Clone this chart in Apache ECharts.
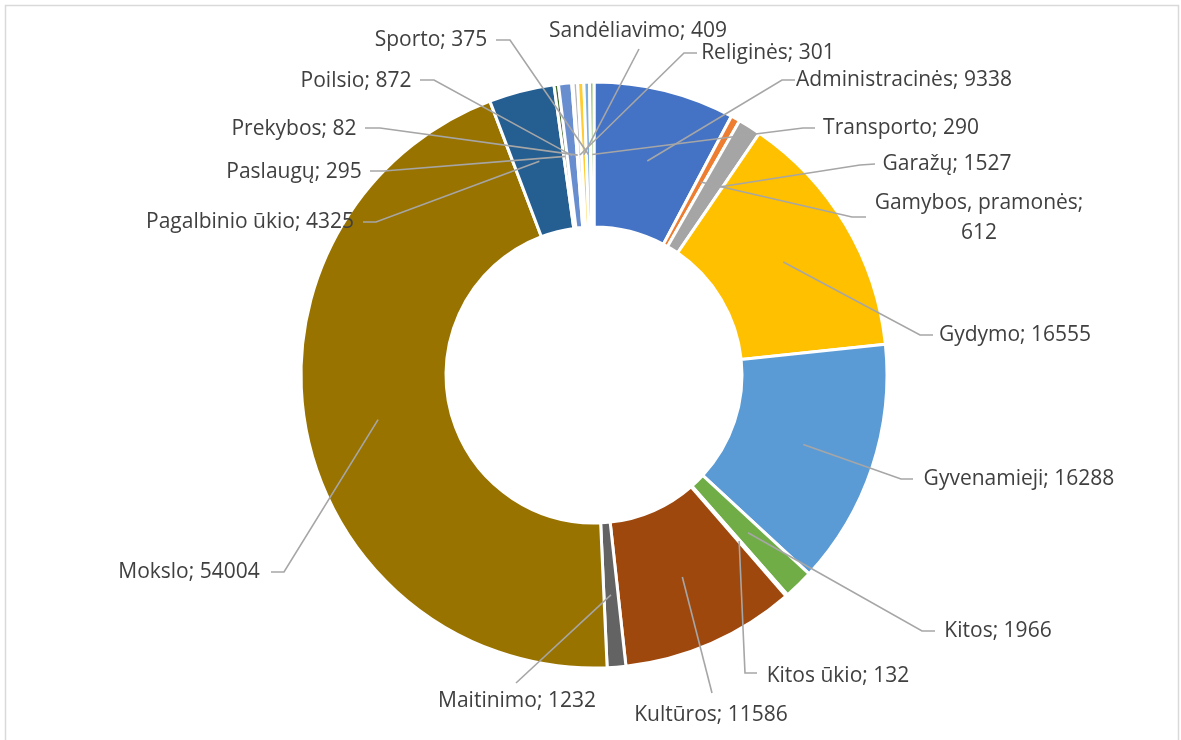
<!DOCTYPE html>
<html>
<head>
<meta charset="utf-8">
<script src="https://cdn.jsdelivr.net/npm/echarts@6/dist/echarts.min.js"></script>
<style>
html,body{margin:0;padding:0;background:#fff;}
#main{width:1181px;height:740px;}
</style>
</head>
<body>
<div id="main"></div>
<script>
const categories = ['Administracinės','Gamybos, pramonės','Garažų','Gydymo','Gyvenamieji','Kitos','Kitos ūkio','Kultūros','Maitinimo','Mokslo','Pagalbinio ūkio','Paslaugų','Poilsio','Prekybos','Religinės','Sandėliavimo','Sporto','Transporto'];
const values = [9338,612,1527,16555,16288,1966,132,11586,1232,54004,4325,295,872,82,301,409,375,290];
const colors = ['#4472C4','#ED7D31','#A5A5A5','#FFC000','#5B9BD5','#70AD47','#264478','#9E480E','#636363','#997300','#255E91','#43682B','#698ED0','#F1975A','#B7B7B7','#FFCD33','#7CAFDD','#8CC168'];

// label placement (layout only): text centre, elbow point, attach point
const labelLayoutSpec = [
  {x:904, y:80,  elbow:[782,80],  attach:[795,80]},
  {x:979, y:218, elbow:[852,217], attach:[866,217], wrap:true},
  {x:947, y:164, elbow:[860,165], attach:[875,164]},
  {x:1015,y:335, elbow:[920,335], attach:[933,335]},
  {x:1019,y:479, elbow:[901,479], attach:[913,479]},
  {x:998, y:631, elbow:[922,631], attach:[935,631]},
  {x:838, y:676, elbow:[745,673], attach:[757,673]},
  {x:711, y:715, elbow:[712,693], attach:[712,693]},
  {x:517, y:701, elbow:[516,683], attach:[516,683]},
  {x:189, y:572, elbow:[284,572], attach:[271,572]},
  {x:250, y:222, elbow:[376,222], attach:[363,222]},
  {x:294, y:172, elbow:[384,171], attach:[370,171]},
  {x:356, y:81,  elbow:[434,80],  attach:[420,80]},
  {x:294, y:129, elbow:[380,128], attach:[365,128]},
  {x:768, y:53,  elbow:[684,53],  attach:[697,53]},
  {x:638, y:31,  elbow:[639,49],  attach:[639,49]},
  {x:431, y:40,  elbow:[510,40],  attach:[496,40]},
  {x:901, y:128, elbow:[803,128], attach:[815,128]}
];

const CX = 594, CY = 375, R0 = 148, R1 = 293;
const total = values.reduce((a,b)=>a+b,0);
const cum = [];
values.reduce((acc,v,i)=>{cum[i]=acc+v/2; return acc+v;},0);
function anchor(i){
  const f = cum[i]/total;
  const th = Math.PI/2 - f*2*Math.PI;
  const r = (R0+R1)/2;
  return [CX + r*Math.cos(th), CY - r*Math.sin(th)];
}

const leaderLines = labelLayoutSpec.map((s,i)=>({
  type:'polyline', z:100, silent:true,
  shape:{points:[anchor(i), s.elbow, s.attach]},
  style:{stroke:'#A6A6A6',lineWidth:1.6,fill:null}
}));

const chart = echarts.init(document.getElementById('main'));
chart.setOption({
  backgroundColor:'#fff',
  animation:false,
  graphic:[{type:'rect',z:-1,shape:{x:5.5,y:5.5,width:1173,height:760},style:{fill:'none',stroke:'#D9D9D9',lineWidth:1.5},silent:true}].concat(leaderLines),
  series:[{
    type:'pie',
    center:[CX,CY],
    radius:[R0,R1],
    startAngle:90,
    clockwise:true,
    avoidLabelOverlap:false,
    data:categories.map((c,i)=>({name:c,value:values[i],itemStyle:{color:colors[i]}})),
    itemStyle:{borderColor:'#fff',borderWidth:3},
    label:{
      show:true,position:'outside',
      fontFamily:'Open Sans',fontSize:21,color:'#404040',lineHeight:30,
      formatter:p=> labelLayoutSpec[p.dataIndex].wrap ? p.name+';\n'+p.value : p.name+'; '+p.value
    },
    labelLine:{show:false},
    labelLayout:function(params){
      const s = labelLayoutSpec[params.dataIndex];
      return {x:s.x,y:s.y,align:'center',verticalAlign:'middle'};
    },
    emphasis:{disabled:true}
  }]
});
</script>
</body>
</html>
